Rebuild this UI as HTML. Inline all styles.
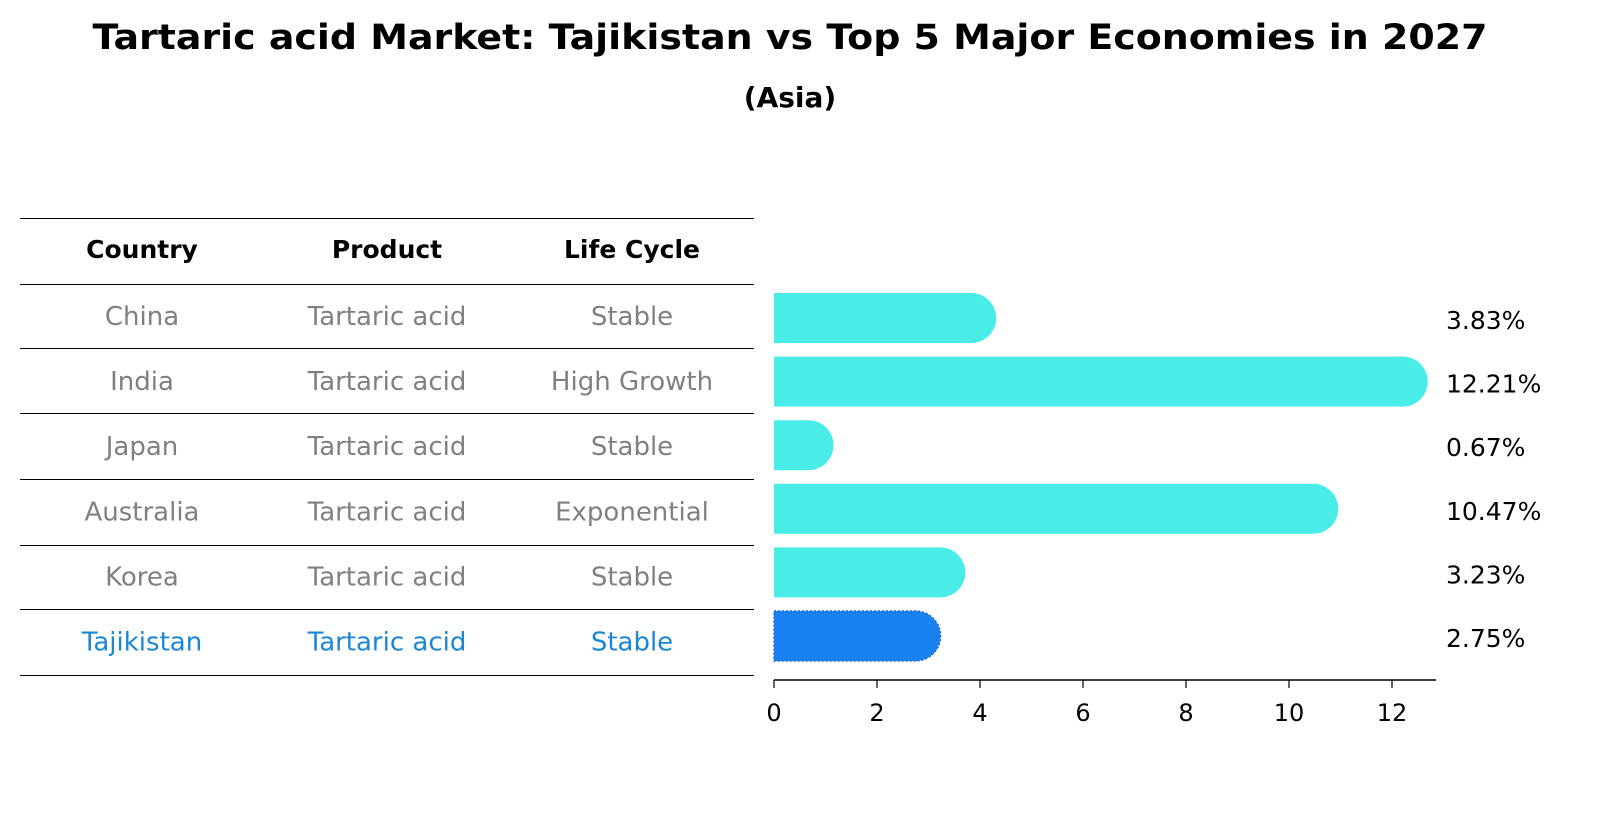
<!DOCTYPE html>
<html><head><meta charset="utf-8"><style>
html,body{margin:0;padding:0;background:#fff}
svg{display:block;font-family:"DejaVu Sans","Liberation Sans",sans-serif}
</style></head><body>
<svg id="chart" width="1604" height="823" viewBox="0 0 1604 823">
<text x="790" y="49" text-anchor="middle" font-size="35" font-weight="bold" textLength="1395" lengthAdjust="spacingAndGlyphs">Tartaric acid Market: Tajikistan vs Top 5 Major Economies in 2027</text>
<text x="790" y="107" text-anchor="middle" font-size="28" font-weight="bold">(Asia)</text>
<g id="table"></g>
<g id="bars"></g>
</svg>
<script>
const countries=["China","India","Japan","Australia","Korea","Tajikistan"];
const products=["Tartaric acid","Tartaric acid","Tartaric acid","Tartaric acid","Tartaric acid","Tartaric acid"];
const lifeCycles=["Stable","High Growth","Stable","Exponential","Stable","Stable"];
const values=[3.83,12.21,0.67,10.47,3.23,2.75];
const ticks=[0,2,4,6,8,10,12];
const NS="http://www.w3.org/2000/svg";
function mk(tag,attrs,parent,text){const e=document.createElementNS(NS,tag);for(const k in attrs)e.setAttribute(k,attrs[k]);if(text!==undefined)e.textContent=text;parent.appendChild(e);return e;}
const x=v=>774+v*51.5;
const rowY=i=>318+i*63.6;
const table=document.getElementById('table');
const lineYs=[218,284,348,413,479,545,609,675];
lineYs.forEach((y,i)=>{const l=mk('line',{x1:20,x2:754,y1:y+0.5,y2:y+0.5,stroke:'#000','stroke-width':1,'shape-rendering':'crispEdges'},table);

});
const cols=[142,387,632];
["Country","Product","Life Cycle"].forEach((h,j)=>{const t=mk('text',{x:cols[j],y:258,'text-anchor':'middle','font-size':25,'font-weight':'bold'},table,h);

});
countries.forEach((c,i)=>{const cy=316+i*65.1+9;const col=i===countries.length-1?'#1a86d6':'#808080';
[c,products[i],lifeCycles[i]].forEach((s,j)=>{const t=mk('text',{x:cols[j],y:cy,'text-anchor':'middle','font-size':26,fill:col},table,s);

});});
const bars=document.getElementById('bars');
const h=50,r=25;
values.forEach((v,i)=>{const yc=rowY(i),y0=yc-h/2,xe=x(v);const last=i===values.length-1;
const p=mk('path',{d:`M774 ${y0} H${xe} A${r} ${r} 0 0 1 ${xe} ${y0+h} H774 Z`,fill:last?'#1a82f0':'#4aece8',stroke:last?'#1a6fd0':'none','stroke-dasharray':last?'2 2':'none','stroke-width':last?1.5:0},bars);


const t=mk('text',{x:1446,y:yc+11,'font-size':25},bars,v.toFixed(2)+'%');

});
const ax=mk('line',{x1:774,x2:1436,y1:680,y2:680,stroke:'#000','stroke-width':1.5},bars);


ticks.forEach(tv=>{const tl=mk('line',{x1:x(tv),x2:x(tv),y1:680,y2:688,stroke:'#000','stroke-width':1.2},bars);


const t=mk('text',{x:x(tv),y:721,'text-anchor':'middle','font-size':24},bars,String(tv));

});
</script>
</body></html>
